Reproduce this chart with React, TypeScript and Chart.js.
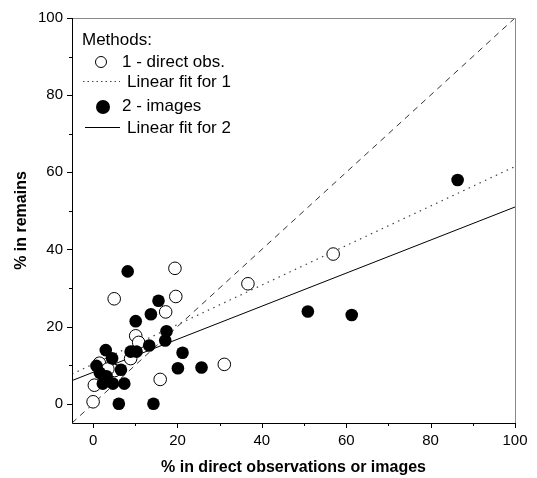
import React, { useEffect, useRef } from "react";
import { Chart, registerables } from "chart.js";

Chart.register(...registerables);

// Method 1 - direct observations (open circles)
const directX = [0.0, 0.3, 5.0, 5.1, 8.9, 10.1, 10.8, 15.9, 17.2, 19.4, 19.6, 31.1, 36.7, 56.9, 1.5, 3.5];
const directY = [0.5, 4.8, 27.2, 8.6, 11.7, 17.6, 15.9, 6.3, 23.8, 35.1, 27.8, 10.2, 31.1, 38.8, 10.5, 9.0];

// Method 2 - images (filled circles)
const imagesX = [8.2, 15.5, 13.7, 10.1, 17.4, 17.1, 13.3, 8.9, 10.3, 21.2, 3.0, 4.5, 0.8, 6.6, 1.6, 3.2, 2.3, 4.7, 7.4, 20.1, 25.7, 6.1, 14.3, 50.9, 61.3, 86.4];
const imagesY = [34.3, 26.7, 23.2, 21.4, 18.8, 16.4, 15.1, 13.5, 13.5, 13.2, 13.9, 11.8, 9.8, 8.8, 8.0, 7.1, 5.2, 5.2, 5.2, 9.2, 9.4, 0.0, 0.0, 23.9, 23.0, 58.0];

// Fitted lines (endpoints)
const fit1X = [-5, 100];
const fit1Y = [7.7, 61.5];
const fit2X = [-5, 100];
const fit2Y = [6.0, 51.0];
const oneToOneX = [-5, 100];
const oneToOneY = [-5, 100];

const majorTicks = [0, 20, 40, 60, 80, 100];
const minorTicks = [10, 30, 50, 70, 90];

const legendTitle = "Methods:";
const legendLabels = ["1 - direct obs.", "Linear fit for 1", "2 - images", "Linear fit for 2"];

const xTitle = "% in direct observations or images";
const yTitle = "% in remains";

const FONT = "Arial, 'Liberation Sans', sans-serif";

const toPts = (xs: number[], ys: number[]) => xs.map((x, i) => ({ x, y: ys[i] }));

const framePlugin = {
  id: "frame",
  afterDatasetsDraw(chart: any) {
    const { ctx, chartArea: a, scales } = chart;
    const xs = scales.x;
    const ys = scales.y;
    ctx.save();
    ctx.strokeStyle = "#8a8a8a";
    ctx.lineWidth = 1;
    ctx.beginPath();
    ctx.moveTo(a.left, a.top + 0.5);
    ctx.lineTo(a.right + 0.5, a.top + 0.5);
    ctx.lineTo(a.right + 0.5, a.bottom);
    ctx.stroke();
    ctx.strokeStyle = "#000";
    ctx.beginPath();
    ctx.moveTo(a.left + 0.5, a.top);
    ctx.lineTo(a.left + 0.5, a.bottom + 0.5);
    ctx.lineTo(a.right + 1, a.bottom + 0.5);
    ctx.stroke();
    ctx.beginPath();
    majorTicks.forEach((v) => {
      const px = Math.round(xs.getPixelForValue(v)) + 0.5;
      ctx.moveTo(px, a.bottom);
      ctx.lineTo(px, a.bottom + 5);
      const py = Math.round(ys.getPixelForValue(v)) + 0.5;
      ctx.moveTo(a.left, py);
      ctx.lineTo(a.left - 5, py);
    });
    minorTicks.forEach((v) => {
      const px = Math.round(xs.getPixelForValue(v)) + 0.5;
      ctx.moveTo(px, a.bottom);
      ctx.lineTo(px, a.bottom + 3);
      const py = Math.round(ys.getPixelForValue(v)) + 0.5;
      ctx.moveTo(a.left, py);
      ctx.lineTo(a.left - 3, py);
    });
    ctx.stroke();
    ctx.restore();
  },
  afterDraw(chart: any) {
    const { ctx } = chart;
    ctx.save();
    ctx.fillStyle = "#000";
    ctx.font = `17px ${FONT}`;
    ctx.textBaseline = "middle";
    ctx.textAlign = "left";
    ctx.fillText(legendTitle, 82, 40);
    ctx.beginPath();
    ctx.arc(101, 62, 5.5, 0, Math.PI * 2);
    ctx.fillStyle = "#fff";
    ctx.fill();
    ctx.strokeStyle = "#000";
    ctx.lineWidth = 1;
    ctx.stroke();
    ctx.fillStyle = "#000";
    ctx.fillText(legendLabels[0], 122, 62);
    ctx.beginPath();
    ctx.setLineDash([1.5, 3]);
    ctx.strokeStyle = "#444";
    ctx.moveTo(83, 81.5);
    ctx.lineTo(120, 81.5);
    ctx.stroke();
    ctx.setLineDash([]);
    ctx.fillText(legendLabels[1], 127, 82);
    ctx.beginPath();
    ctx.arc(103, 107, 7, 0, Math.PI * 2);
    ctx.fillStyle = "#000";
    ctx.fill();
    ctx.fillText(legendLabels[2], 122, 106);
    ctx.beginPath();
    ctx.strokeStyle = "#000";
    ctx.moveTo(85, 127.5);
    ctx.lineTo(120, 127.5);
    ctx.stroke();
    ctx.fillText(legendLabels[3], 127, 128);
    ctx.restore();
  },
};

export default function App() {
  const ref = useRef<HTMLCanvasElement | null>(null);
  useEffect(() => {
    if (!ref.current) return;
    const setTicks = (scale: any) => {
      scale.ticks = majorTicks.map((v) => ({ value: v }));
    };
    const chart = new Chart(ref.current, {
      type: "scatter",
      data: {
        datasets: [
          {
            label: "1:1",
            data: toPts(oneToOneX, oneToOneY),
            showLine: true,
            borderColor: "#333",
            borderWidth: 1,
            borderDash: [6, 5],
            pointRadius: 0,
            order: 5,
          },
          {
            label: legendLabels[1],
            data: toPts(fit1X, fit1Y),
            showLine: true,
            borderColor: "#444",
            borderWidth: 1.2,
            borderDash: [1.5, 4.5],
            pointRadius: 0,
            order: 4,
          },
          {
            label: legendLabels[3],
            data: toPts(fit2X, fit2Y),
            showLine: true,
            borderColor: "#000",
            borderWidth: 1,
            pointRadius: 0,
            order: 3,
          },
          {
            label: legendLabels[0],
            data: toPts(directX, directY),
            pointRadius: 6.3,
            pointBorderWidth: 1,
            pointBorderColor: "#000",
            pointBackgroundColor: "#fff",
            order: 2,
          },
          {
            label: legendLabels[2],
            data: toPts(imagesX, imagesY),
            pointRadius: 6.3,
            pointBorderWidth: 0,
            pointBorderColor: "#000",
            pointBackgroundColor: "#000",
            order: 1,
          },
        ],
      },
      options: {
        responsive: false,
        animation: false,
        layout: { padding: { top: 13, right: 22, left: 0, bottom: 0 } },
        plugins: { legend: { display: false }, tooltip: { enabled: false } },
        scales: {
          x: {
            type: "linear",
            min: -5,
            max: 100,
            afterBuildTicks: setTicks,
            afterFit: (s: any) => {
              s.height = 55;
            },
            grid: { display: true, drawOnChartArea: false, drawTicks: false, color: "rgba(0,0,0,0)" },
            border: { display: false },
            ticks: { color: "#000", font: { family: FONT, size: 15 }, padding: 9, maxRotation: 0 },
            title: {
              display: true,
              text: xTitle,
              color: "#000",
              font: { family: FONT, size: 16, weight: "bold" },
              padding: { top: 0, bottom: 1 },
            },
          },
          y: {
            type: "linear",
            min: -5,
            max: 100,
            afterBuildTicks: setTicks,
            afterFit: (s: any) => {
              s.width = 72;
            },
            grid: { display: true, drawOnChartArea: false, drawTicks: false, color: "rgba(0,0,0,0)" },
            border: { display: false },
            ticks: { color: "#000", font: { family: FONT, size: 15 }, padding: 9 },
            title: {
              display: true,
              text: yTitle,
              color: "#000",
              font: { family: FONT, size: 16, weight: "bold" },
              padding: { top: 12, bottom: 0 },
            },
          },
        },
      },
      plugins: [framePlugin],
    });
    return () => chart.destroy();
  }, []);
  return (
    <div style={{ position: "absolute", left: 0, top: 0, width: 537, height: 478, background: "#fff" }}>
      <canvas ref={ref} width={537} height={478} />
    </div>
  );
}
